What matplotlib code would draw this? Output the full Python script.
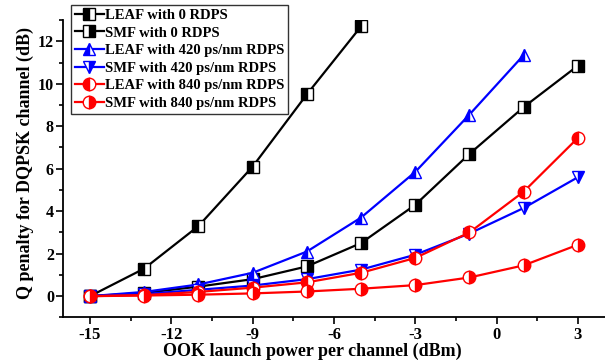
import matplotlib.pyplot as plt
from matplotlib.ticker import MultipleLocator

plt.rcParams["font.family"] = ["Liberation Serif", "DejaVu Serif"]
plt.rcParams["font.weight"] = "bold"
plt.rcParams["axes.unicode_minus"] = False

# launch power (dBm)
x_leaf0 = [-15, -13, -11, -9, -7, -5]
x_full = [-15, -13, -11, -9, -7, -5, -3, -1, 1, 3]
x_leaf420 = [-15, -13, -11, -9, -7, -5, -3, -1, 1]

# Q penalty (dB)
leaf_0 = [0, 1.3, 3.3, 6.1, 9.5, 12.7]
smf_0 = [0, 0.15, 0.45, 0.8, 1.4, 2.5, 4.3, 6.7, 8.9, 10.85]
leaf_420 = [0, 0.2, 0.55, 1.1, 2.1, 3.7, 5.85, 8.55, 11.35]
smf_420 = [0, 0.1, 0.3, 0.5, 0.8, 1.25, 1.95, 2.95, 4.15, 5.6]
leaf_840 = [0, 0.05, 0.2, 0.4, 0.65, 1.1, 1.8, 3.0, 4.92, 7.45]
smf_840 = [0, 0.03, 0.07, 0.13, 0.22, 0.35, 0.52, 0.88, 1.45, 2.42]

fig = plt.figure(figsize=(6.05, 3.64), dpi=100)
ax = fig.add_axes([0.104, 0.128, 0.896, 0.817])

ms = 8
ax.plot(x_leaf0, leaf_0, color='black', lw=1.6, marker='s', ms=ms, fillstyle='left',
        markerfacecoloralt='white', mec='black', mew=1, label='LEAF with 0 RDPS')
ax.plot(x_full, smf_0, color='black', lw=1.6, marker='s', ms=ms, fillstyle='right',
        markerfacecoloralt='white', mec='black', mew=1, label='SMF with 0 RDPS')
ax.plot(x_leaf420, leaf_420, color='blue', lw=1.6, marker='^', ms=ms + 1, fillstyle='left',
        markerfacecoloralt='white', mec='blue', mew=1, label='LEAF with 420 ps/nm RDPS')
ax.plot(x_full, smf_420, color='blue', lw=1.6, marker='v', ms=ms + 1, fillstyle='right',
        markerfacecoloralt='white', mec='blue', mew=1, label='SMF with 420 ps/nm RDPS')
ax.plot(x_full, leaf_840, color='red', lw=1.6, marker='o', ms=ms + 1, fillstyle='left',
        markerfacecoloralt='white', mec='red', mew=1, label='LEAF with 840 ps/nm RDPS')
ax.plot(x_full, smf_840, color='red', lw=1.6, marker='o', ms=ms + 1, fillstyle='right',
        markerfacecoloralt='white', mec='red', mew=1, label='SMF with 840 ps/nm RDPS')

ax.set_xlim(-16, 4)
ax.set_ylim(-1, 13)
ax.xaxis.set_major_locator(MultipleLocator(3))
ax.xaxis.set_minor_locator(MultipleLocator(1.5))
ax.yaxis.set_major_locator(MultipleLocator(2))
ax.yaxis.set_minor_locator(MultipleLocator(1))
ax.tick_params(which='both', direction='out', width=1.2, labelsize=12, pad=2)
ax.tick_params(axis='y', labelsize=11.5, pad=1.5)
ax.tick_params(which='major', length=5)
ax.tick_params(which='minor', length=3)
ax.spines['top'].set_visible(False)
ax.spines['right'].set_visible(False)
ax.spines['left'].set_linewidth(1.3)
ax.spines['bottom'].set_linewidth(1.3)

ax.set_xlabel('OOK launch power per channel (dBm)', fontsize=13, fontweight='bold')
ax.set_ylabel('Q penalty for DQPSK channel (dB)', fontsize=13, fontweight='bold')
ax.xaxis.set_label_coords(0.46, -0.085)
ax.yaxis.set_label_coords(-0.054, 0.52)

leg = ax.legend(loc='upper left', bbox_to_anchor=(0.015, 1.05), fontsize=10.5, frameon=True,
                fancybox=False, edgecolor='black', handlelength=2.0, handletextpad=0.1,
                labelspacing=0.3, borderpad=0.25, borderaxespad=0)
leg.get_frame().set_linewidth(1.0)
for t in leg.get_texts():
    t.set_fontweight('bold')

fig.savefig('out.png', dpi=100)
